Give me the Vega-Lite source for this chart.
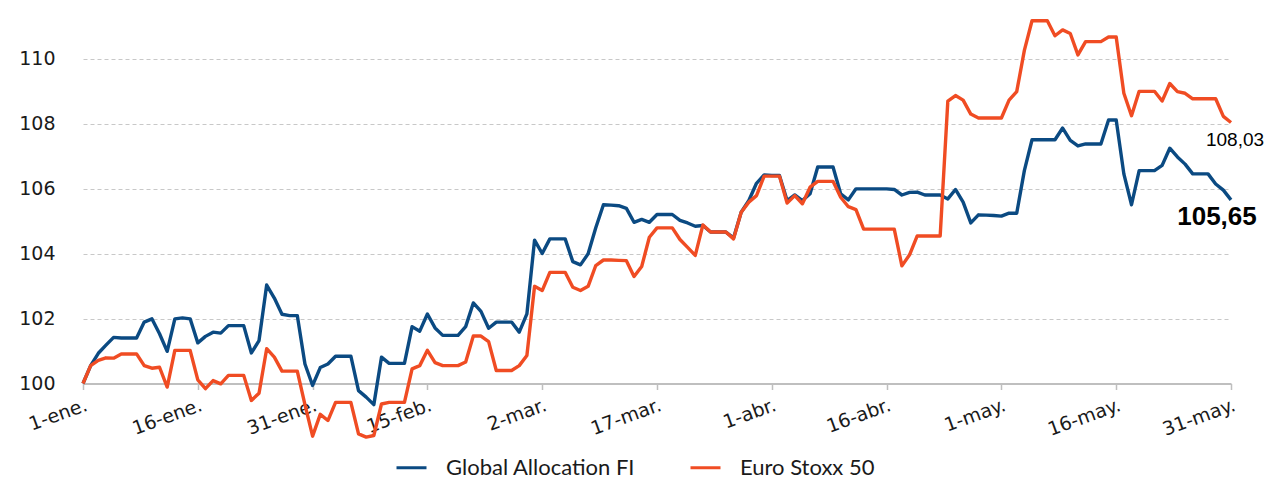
{
"$schema":"https://vega.github.io/schema/vega-lite/v6.json",
"width":1148,"height":429,
"autosize":{"type":"none"},
"padding":{"left":83,"top":13,"right":35,"bottom":39},
"config":{"view":{"stroke":null},"locale":{"number":{"decimal":",","thousands":".","grouping":[3],"currency":["","\u00a0€"]}}},
"data":{"values":[
{"date":"2017-01-01","fund":100,"stoxx":100},
{"date":"2017-01-02","fund":100.55,"stoxx":100.55},
{"date":"2017-01-03","fund":100.93,"stoxx":100.71},
{"date":"2017-01-04","fund":101.18,"stoxx":100.79},
{"date":"2017-01-05","fund":101.42,"stoxx":100.78},
{"date":"2017-01-06","fund":101.40,"stoxx":100.91},
{"date":"2017-01-07","fund":101.40,"stoxx":100.91},
{"date":"2017-01-08","fund":101.40,"stoxx":100.91},
{"date":"2017-01-09","fund":101.89,"stoxx":100.55},
{"date":"2017-01-10","fund":101.99,"stoxx":100.47},
{"date":"2017-01-11","fund":101.53,"stoxx":100.50},
{"date":"2017-01-12","fund":100.99,"stoxx":99.89},
{"date":"2017-01-13","fund":101.99,"stoxx":101.02},
{"date":"2017-01-14","fund":102.02,"stoxx":101.02},
{"date":"2017-01-15","fund":101.99,"stoxx":101.02},
{"date":"2017-01-16","fund":101.25,"stoxx":100.11},
{"date":"2017-01-17","fund":101.45,"stoxx":99.84},
{"date":"2017-01-18","fund":101.58,"stoxx":100.09},
{"date":"2017-01-19","fund":101.55,"stoxx":99.99},
{"date":"2017-01-20","fund":101.78,"stoxx":100.25},
{"date":"2017-01-21","fund":101.78,"stoxx":100.25},
{"date":"2017-01-22","fund":101.78,"stoxx":100.25},
{"date":"2017-01-23","fund":100.94,"stoxx":99.48},
{"date":"2017-01-24","fund":101.32,"stoxx":99.70},
{"date":"2017-01-25","fund":103.03,"stoxx":101.07},
{"date":"2017-01-26","fund":102.63,"stoxx":100.81},
{"date":"2017-01-27","fund":102.13,"stoxx":100.38},
{"date":"2017-01-28","fund":102.09,"stoxx":100.38},
{"date":"2017-01-29","fund":102.09,"stoxx":100.38},
{"date":"2017-01-30","fund":100.60,"stoxx":99.35},
{"date":"2017-01-31","fund":99.94,"stoxx":98.38},
{"date":"2017-02-01","fund":100.49,"stoxx":99.05},
{"date":"2017-02-02","fund":100.60,"stoxx":98.86},
{"date":"2017-02-03","fund":100.84,"stoxx":99.42},
{"date":"2017-02-04","fund":100.84,"stoxx":99.42},
{"date":"2017-02-05","fund":100.84,"stoxx":99.42},
{"date":"2017-02-06","fund":99.78,"stoxx":98.45},
{"date":"2017-02-07","fund":99.58,"stoxx":98.35},
{"date":"2017-02-08","fund":99.35,"stoxx":98.40},
{"date":"2017-02-09","fund":100.81,"stoxx":99.37},
{"date":"2017-02-10","fund":100.62,"stoxx":99.42},
{"date":"2017-02-11","fund":100.62,"stoxx":99.42},
{"date":"2017-02-12","fund":100.62,"stoxx":99.42},
{"date":"2017-02-13","fund":101.75,"stoxx":100.45},
{"date":"2017-02-14","fund":101.61,"stoxx":100.55},
{"date":"2017-02-15","fund":102.14,"stoxx":101.02},
{"date":"2017-02-16","fund":101.71,"stoxx":100.64},
{"date":"2017-02-17","fund":101.48,"stoxx":100.55},
{"date":"2017-02-18","fund":101.48,"stoxx":100.55},
{"date":"2017-02-19","fund":101.48,"stoxx":100.55},
{"date":"2017-02-20","fund":101.75,"stoxx":100.66},
{"date":"2017-02-21","fund":102.48,"stoxx":101.46},
{"date":"2017-02-22","fund":102.22,"stoxx":101.46},
{"date":"2017-02-23","fund":101.70,"stoxx":101.29},
{"date":"2017-02-24","fund":101.89,"stoxx":100.40},
{"date":"2017-02-25","fund":101.89,"stoxx":100.40},
{"date":"2017-02-26","fund":101.89,"stoxx":100.40},
{"date":"2017-02-27","fund":101.58,"stoxx":100.55},
{"date":"2017-02-28","fund":102.14,"stoxx":100.86},
{"date":"2017-03-01","fund":104.41,"stoxx":102.99},
{"date":"2017-03-02","fund":104.00,"stoxx":102.86},
{"date":"2017-03-03","fund":104.45,"stoxx":103.42},
{"date":"2017-03-04","fund":104.45,"stoxx":103.42},
{"date":"2017-03-05","fund":104.45,"stoxx":103.42},
{"date":"2017-03-06","fund":103.75,"stoxx":102.96},
{"date":"2017-03-07","fund":103.65,"stoxx":102.86},
{"date":"2017-03-08","fund":103.99,"stoxx":102.99},
{"date":"2017-03-09","fund":104.79,"stoxx":103.63},
{"date":"2017-03-10","fund":105.50,"stoxx":103.80},
{"date":"2017-03-11","fund":105.49,"stoxx":103.80},
{"date":"2017-03-12","fund":105.47,"stoxx":103.79},
{"date":"2017-03-13","fund":105.39,"stoxx":103.78},
{"date":"2017-03-14","fund":104.96,"stoxx":103.29},
{"date":"2017-03-15","fund":105.05,"stoxx":103.60},
{"date":"2017-03-16","fund":104.96,"stoxx":104.50},
{"date":"2017-03-17","fund":105.20,"stoxx":104.79},
{"date":"2017-03-18","fund":105.20,"stoxx":104.79},
{"date":"2017-03-19","fund":105.20,"stoxx":104.79},
{"date":"2017-03-20","fund":105.02,"stoxx":104.43},
{"date":"2017-03-21","fund":104.94,"stoxx":104.19},
{"date":"2017-03-22","fund":104.84,"stoxx":103.94},
{"date":"2017-03-23","fund":104.86,"stoxx":104.88},
{"date":"2017-03-24","fund":104.66,"stoxx":104.66},
{"date":"2017-03-25","fund":104.66,"stoxx":104.66},
{"date":"2017-03-26","fund":104.66,"stoxx":104.66},
{"date":"2017-03-27","fund":104.48,"stoxx":104.45},
{"date":"2017-03-28","fund":105.27,"stoxx":105.27},
{"date":"2017-03-29","fund":105.63,"stoxx":105.58},
{"date":"2017-03-30","fund":106.16,"stoxx":105.78},
{"date":"2017-03-31","fund":106.42,"stoxx":106.38},
{"date":"2017-04-01","fund":106.40,"stoxx":106.38},
{"date":"2017-04-02","fund":106.40,"stoxx":106.38},
{"date":"2017-04-03","fund":105.63,"stoxx":105.55},
{"date":"2017-04-04","fund":105.80,"stoxx":105.78},
{"date":"2017-04-05","fund":105.63,"stoxx":105.53},
{"date":"2017-04-06","fund":105.84,"stoxx":106.04},
{"date":"2017-04-07","fund":106.66,"stoxx":106.22},
{"date":"2017-04-08","fund":106.66,"stoxx":106.22},
{"date":"2017-04-09","fund":106.66,"stoxx":106.22},
{"date":"2017-04-10","fund":105.84,"stoxx":105.73},
{"date":"2017-04-11","fund":105.65,"stoxx":105.44},
{"date":"2017-04-12","fund":105.99,"stoxx":105.35},
{"date":"2017-04-13","fund":105.99,"stoxx":104.75},
{"date":"2017-04-14","fund":105.99,"stoxx":104.75},
{"date":"2017-04-15","fund":105.99,"stoxx":104.75},
{"date":"2017-04-16","fund":105.99,"stoxx":104.75},
{"date":"2017-04-17","fund":105.97,"stoxx":104.75},
{"date":"2017-04-18","fund":105.80,"stoxx":103.62},
{"date":"2017-04-19","fund":105.88,"stoxx":103.96},
{"date":"2017-04-20","fund":105.89,"stoxx":104.54},
{"date":"2017-04-21","fund":105.80,"stoxx":104.54},
{"date":"2017-04-22","fund":105.80,"stoxx":104.54},
{"date":"2017-04-23","fund":105.80,"stoxx":104.54},
{"date":"2017-04-24","fund":105.68,"stoxx":108.69},
{"date":"2017-04-25","fund":105.97,"stoxx":108.86},
{"date":"2017-04-26","fund":105.58,"stoxx":108.72},
{"date":"2017-04-27","fund":104.94,"stoxx":108.29},
{"date":"2017-04-28","fund":105.19,"stoxx":108.17},
{"date":"2017-04-29","fund":105.18,"stoxx":108.17},
{"date":"2017-04-30","fund":105.17,"stoxx":108.17},
{"date":"2017-05-01","fund":105.15,"stoxx":108.17},
{"date":"2017-05-02","fund":105.24,"stoxx":108.72},
{"date":"2017-05-03","fund":105.24,"stoxx":108.98},
{"date":"2017-05-04","fund":106.55,"stoxx":110.25},
{"date":"2017-05-05","fund":107.50,"stoxx":111.16},
{"date":"2017-05-06","fund":107.50,"stoxx":111.16},
{"date":"2017-05-07","fund":107.50,"stoxx":111.16},
{"date":"2017-05-08","fund":107.50,"stoxx":110.70},
{"date":"2017-05-09","fund":107.86,"stoxx":110.88},
{"date":"2017-05-10","fund":107.48,"stoxx":110.77},
{"date":"2017-05-11","fund":107.31,"stoxx":110.11},
{"date":"2017-05-12","fund":107.37,"stoxx":110.52},
{"date":"2017-05-13","fund":107.37,"stoxx":110.52},
{"date":"2017-05-14","fund":107.37,"stoxx":110.52},
{"date":"2017-05-15","fund":108.11,"stoxx":110.66},
{"date":"2017-05-16","fund":108.11,"stoxx":110.66},
{"date":"2017-05-17","fund":106.45,"stoxx":108.93},
{"date":"2017-05-18","fund":105.50,"stoxx":108.24},
{"date":"2017-05-19","fund":106.55,"stoxx":108.99},
{"date":"2017-05-20","fund":106.55,"stoxx":108.99},
{"date":"2017-05-21","fund":106.55,"stoxx":108.99},
{"date":"2017-05-22","fund":106.71,"stoxx":108.69},
{"date":"2017-05-23","fund":107.24,"stoxx":109.23},
{"date":"2017-05-24","fund":106.97,"stoxx":108.98},
{"date":"2017-05-25","fund":106.75,"stoxx":108.93},
{"date":"2017-05-26","fund":106.45,"stoxx":108.76},
{"date":"2017-05-27","fund":106.45,"stoxx":108.76},
{"date":"2017-05-28","fund":106.45,"stoxx":108.76},
{"date":"2017-05-29","fund":106.14,"stoxx":108.76},
{"date":"2017-05-30","fund":105.95,"stoxx":108.22},
{"date":"2017-05-31","fund":105.65,"stoxx":108.03}
]},
"encoding":{
 "x":{"field":"date","type":"temporal",
  "scale":{"type":"utc","domain":[{"year":2017,"month":1,"date":1,"utc":true},{"year":2017,"month":5,"date":31,"utc":true}]},
  "axis":{"title":null,
   "values":[{"year":2017,"month":1,"date":1,"utc":true},{"year":2017,"month":1,"date":16,"utc":true},{"year":2017,"month":1,"date":31,"utc":true},{"year":2017,"month":2,"date":15,"utc":true},{"year":2017,"month":3,"date":2,"utc":true},{"year":2017,"month":3,"date":17,"utc":true},{"year":2017,"month":4,"date":1,"utc":true},{"year":2017,"month":4,"date":16,"utc":true},{"year":2017,"month":5,"date":1,"utc":true},{"year":2017,"month":5,"date":16,"utc":true},{"year":2017,"month":5,"date":31,"utc":true}],
   "labelExpr":"utcdate(datum.value) + '-' + ['ene.','feb.','mar.','abr.','may.','jun.'][utcmonth(datum.value)]",
   "offset":-58.5,"grid":false,
   "domainColor":"#BFBFBF","domainWidth":2,"tickColor":"#BFBFBF","tickSize":6,"tickWidth":1.5,
   "labelAngle":-20,"labelAlign":"right","labelBaseline":"top","labelFont":"DejaVu Sans","labelFontSize":19,"labelColor":"#1a1a1a","labelPadding":6,
   "labelOverlap":false,"labelBound":false,"labelFlush":false}
 }
},
"layer":[
 {"mark":{"type":"line","strokeWidth":3.4,"strokeJoin":"round"},
  "encoding":{
   "y":{"field":"fund","type":"quantitative","scale":{"domain":[98.2,111.4],"zero":false,"nice":false},
    "axis":{"title":null,"values":[100,102,104,106,108,110],"grid":true,"gridDash":[4,3],"gridColor":"#C8C8C8","gridWidth":1,"domain":false,"ticks":false,"labelFont":"DejaVu Sans","labelFontSize":19,"labelColor":"#1a1a1a","labelPadding":28}},
   "color":{"datum":"Global Allocation FI","type":"nominal",
    "scale":{"domain":["Global Allocation FI","Euro Stoxx 50"],"range":["#0B4A82","#F04C23"]},
    "legend":{"orient":"none","legendX":312,"legendY":438,"direction":"horizontal","title":null,"symbolType":"stroke","symbolSize":900,"symbolStrokeWidth":3,"labelFont":"Lato","labelFontSize":22,"labelColor":"#1a1a1a","labelOffset":18,"labelLimit":0,"columnPadding":48}}
  }},
 {"mark":{"type":"line","strokeWidth":3.4,"strokeJoin":"round"},
  "encoding":{
   "y":{"field":"stoxx","type":"quantitative","scale":{"domain":[98.2,111.4],"zero":false,"nice":false},
    "axis":{"title":null,"values":[100,102,104,106,108,110],"grid":true,"gridDash":[4,3],"gridColor":"#C8C8C8","gridWidth":1,"domain":false,"ticks":false,"labelFont":"DejaVu Sans","labelFontSize":19,"labelColor":"#1a1a1a","labelPadding":28}},
   "color":{"datum":"Euro Stoxx 50","type":"nominal"}
  }},
 {"transform":[{"filter":"utcmonth(toDate(datum.date)) == 4 && utcdate(toDate(datum.date)) == 31"}],
  "mark":{"type":"text","font":"Liberation Sans","fontWeight":"bold","fontSize":26,"dx":-14,"dy":17,"baseline":"middle","align":"center","color":"#000000"},
  "encoding":{
   "y":{"field":"fund","type":"quantitative","scale":{"domain":[98.2,111.4],"zero":false,"nice":false},
    "axis":{"title":null,"values":[100,102,104,106,108,110],"grid":true,"gridDash":[4,3],"gridColor":"#C8C8C8","gridWidth":1,"domain":false,"ticks":false,"labelFont":"DejaVu Sans","labelFontSize":19,"labelColor":"#1a1a1a","labelPadding":28}},
   "text":{"field":"fund","type":"quantitative","format":".2f"}
  }},
 {"transform":[{"filter":"utcmonth(toDate(datum.date)) == 4 && utcdate(toDate(datum.date)) == 31"}],
  "mark":{"type":"text","font":"Liberation Sans","fontSize":19,"dx":4,"dy":17,"baseline":"middle","align":"center","color":"#000000"},
  "encoding":{
   "y":{"field":"stoxx","type":"quantitative","scale":{"domain":[98.2,111.4],"zero":false,"nice":false},
    "axis":{"title":null,"values":[100,102,104,106,108,110],"grid":true,"gridDash":[4,3],"gridColor":"#C8C8C8","gridWidth":1,"domain":false,"ticks":false,"labelFont":"DejaVu Sans","labelFontSize":19,"labelColor":"#1a1a1a","labelPadding":28}},
   "text":{"field":"stoxx","type":"quantitative","format":".2f"}
  }}
]
}
